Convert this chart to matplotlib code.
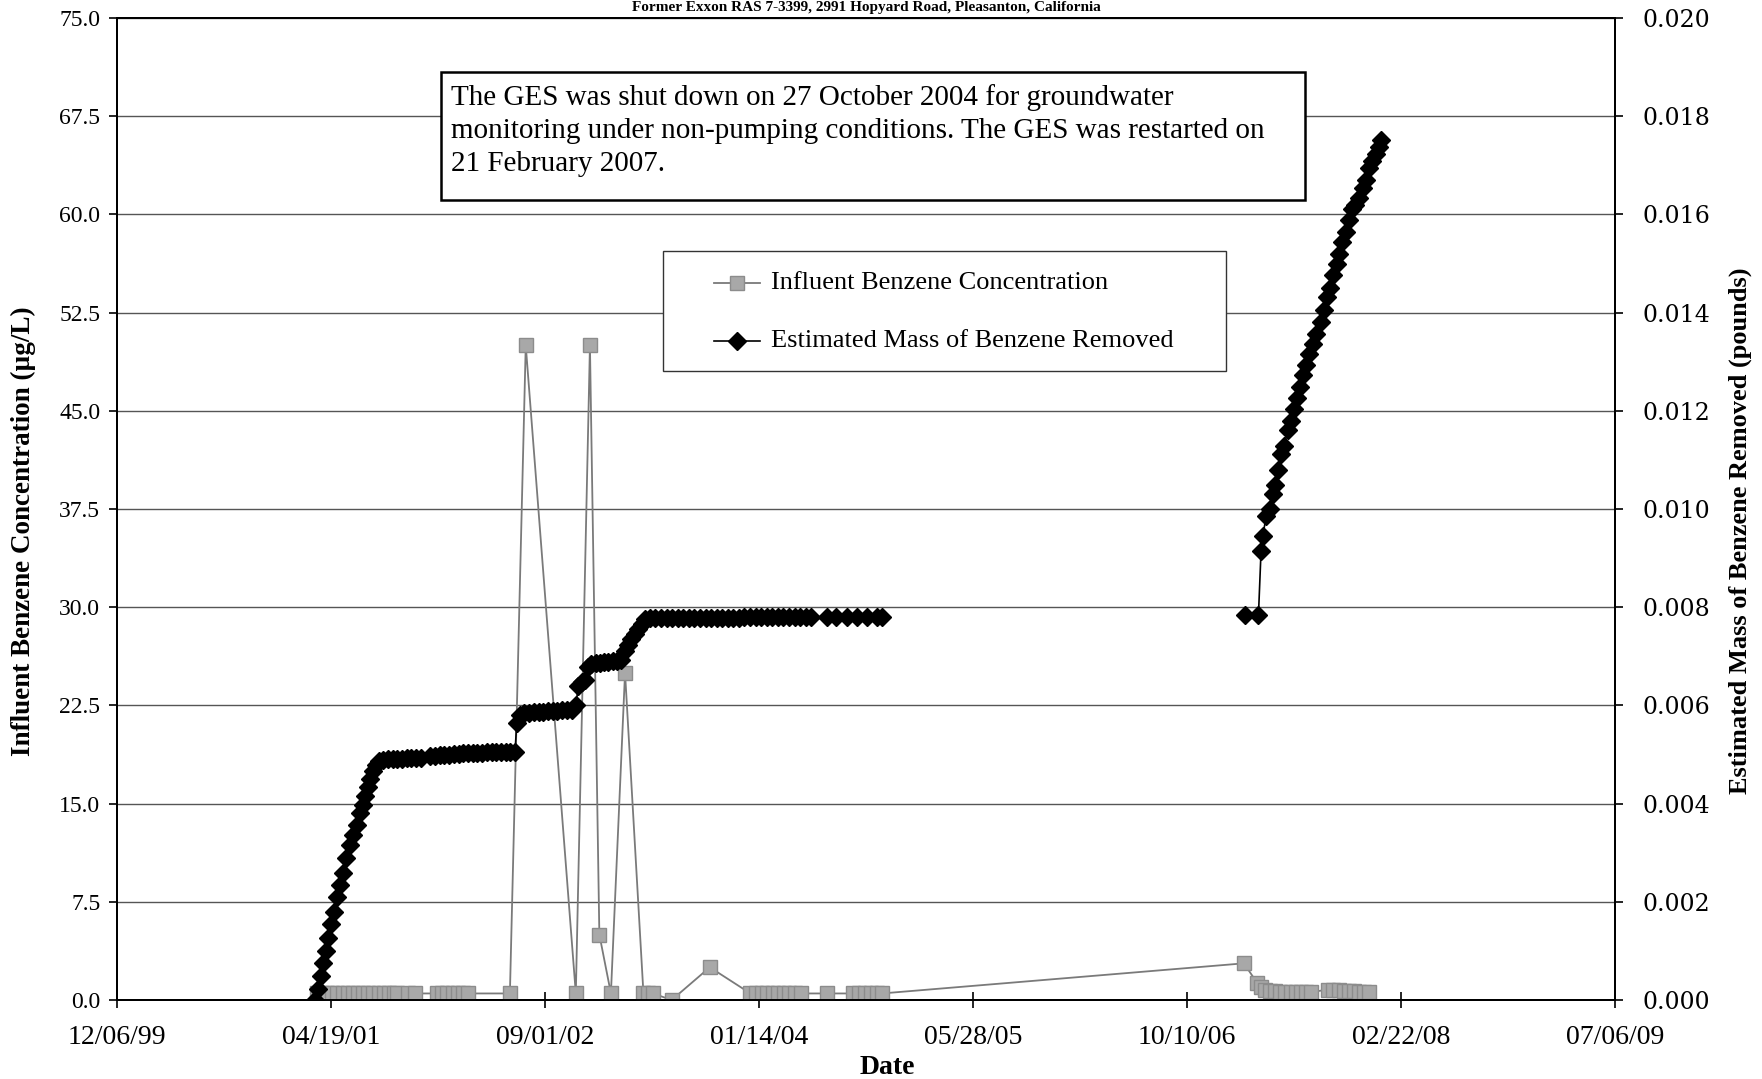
import numpy as np
import pandas as pd
import matplotlib
matplotlib.use("Agg")
import matplotlib.pyplot as plt
from matplotlib.patches import Rectangle
from matplotlib.lines import Line2D

# values, dates kept as Excel serial numbers
conc_days = [36967, 36979, 36991, 37003, 37015, 37027, 37039, 37051, 37063, 37075,
             37087, 37099, 37111, 37123, 37135, 37147, 37155,
             37181, 37196,
             37248, 37260, 37272, 37284, 37296, 37308, 37320,
             37418, 37455, 37572, 37605, 37627, 37654, 37687,
             37730, 37741, 37752, 37796, 37885,
             37980, 37993, 38006, 38019, 38032, 38045, 38058, 38071, 38084, 38098,
             38160,
             38220, 38234, 38248, 38262, 38276, 38287,
             39133, 39164, 39172, 39182, 39194, 39206, 39218, 39230, 39242, 39254,
             39266, 39278, 39290, 39330, 39342, 39354, 39366, 39378, 39390, 39402,
             39414, 39426]
conc_ugl = [0.5, 0.5, 0.5, 0.5, 0.5, 0.5, 0.5, 0.5, 0.5, 0.5,
            0.5, 0.5, 0.5, 0.5, 0.5, 0.5, 0.5,
            0.5, 0.5,
            0.5, 0.5, 0.5, 0.5, 0.5, 0.5, 0.5,
            0.5, 50.0, 0.5, 50.0, 5.0, 0.5, 25.0,
            0.5, 0.5, 0.5, 0.0, 2.5,
            0.5, 0.5, 0.5, 0.5, 0.5, 0.5, 0.5, 0.5, 0.5, 0.5,
            0.5,
            0.5, 0.5, 0.5, 0.5, 0.5, 0.5,
            2.8, 1.3, 1.0, 0.8, 0.7, 0.7, 0.6, 0.6, 0.6, 0.6,
            0.6, 0.6, 0.6, 0.8, 0.8, 0.8, 0.7, 0.7, 0.7, 0.6,
            0.6, 0.6]

mass_days = [36963, 36970, 36976, 36982, 36988, 36994, 37001, 37008, 37015, 37021,
             37029, 37036, 37044, 37052, 37060, 37068, 37074, 37080, 37086, 37092,
             37098, 37104, 37112,
             37122, 37133, 37144, 37155, 37166, 37177, 37188, 37199, 37210,
             37232, 37243, 37254, 37265, 37276, 37287, 37298, 37309, 37320, 37331,
             37342, 37353, 37364, 37375, 37386, 37397, 37408, 37419, 37430,
             37434, 37441, 37452, 37463, 37474, 37485, 37496, 37507, 37518, 37529,
             37540, 37551, 37562, 37572, 37578, 37586, 37594,
             37600, 37608, 37618, 37628, 37638, 37648, 37658, 37668, 37678,
             37686, 37694, 37702, 37710, 37718, 37726, 37734,
             37745, 37758, 37771, 37784, 37797, 37810, 37823, 37836, 37849, 37862,
             37875, 37888, 37901, 37914, 37927, 37940, 37953, 37966, 37979, 37992,
             38005, 38018, 38031, 38044, 38057, 38070, 38083, 38096, 38109, 38122,
             38158, 38181, 38205, 38228, 38252, 38275, 38287,
             38700,
             39136, 39167, 39173, 39177, 39185, 39193, 39200, 39205, 39213, 39220,
             39227, 39235, 39243, 39250, 39256, 39264, 39272, 39279, 39286, 39294,
             39302, 39312, 39319, 39326, 39334, 39342, 39350, 39355, 39363, 39371,
             39378, 39385, 39393, 39403, 39411, 39418, 39425, 39433, 39441, 39448,
             39454]
mass_lbs = [0.00000, 0.00022, 0.00048, 0.00075, 0.00100, 0.00126, 0.00155, 0.00180, 0.00210, 0.00234,
            0.00258, 0.00289, 0.00316, 0.00336, 0.00356, 0.00380, 0.00398, 0.00416, 0.00434, 0.00450,
            0.00466, 0.00479, 0.00487,
            0.00489, 0.00490, 0.00490, 0.00491, 0.00491, 0.00492, 0.00492, 0.00492, 0.00493,
            0.00496, 0.00497, 0.00498, 0.00499, 0.00500, 0.00501, 0.00502, 0.00503, 0.00503, 0.00504,
            0.00504, 0.00504, 0.00505, 0.00505, 0.00505, 0.00505, 0.00506, 0.00506, 0.00506,
            0.00564, 0.00580, 0.00584, 0.00585, 0.00586, 0.00587, 0.00587, 0.00588, 0.00589, 0.00589,
            0.00590, 0.00590, 0.00591, 0.00600, 0.00640, 0.00648, 0.00652,
            0.00678, 0.00684, 0.00686, 0.00687, 0.00688, 0.00689, 0.00690, 0.00690, 0.00692,
            0.00710, 0.00722, 0.00736, 0.00746, 0.00756, 0.00766, 0.00776,
            0.00777, 0.00777, 0.00777, 0.00777, 0.00778, 0.00778, 0.00778, 0.00778, 0.00778, 0.00778,
            0.00779, 0.00779, 0.00779, 0.00779, 0.00779, 0.00779, 0.00779, 0.00780, 0.00780, 0.00780,
            0.00780, 0.00780, 0.00780, 0.00780, 0.00780, 0.00780, 0.00780, 0.00780, 0.00780, 0.00780,
            0.00780, 0.00780, 0.00780, 0.00780, 0.00780, 0.00780, 0.00780,
            np.nan,
            0.00785, 0.00785, 0.00914, 0.00945, 0.00985, 0.01001, 0.01030, 0.01048, 0.01079, 0.01111,
            0.01128, 0.01160, 0.01179, 0.01203, 0.01226, 0.01249, 0.01273, 0.01294, 0.01315, 0.01336,
            0.01357, 0.01381, 0.01406, 0.01432, 0.01451, 0.01477, 0.01498, 0.01519, 0.01544, 0.01564,
            0.01589, 0.01610, 0.01620, 0.01634, 0.01653, 0.01671, 0.01695, 0.01709, 0.01723, 0.01737,
            0.01751]

x_tick_labels = ["12/06/99", "04/19/01", "09/01/02", "01/14/04",
                 "05/28/05", "10/10/06", "02/22/08", "07/06/09"]

note_lines = ["The GES was shut down on 27 October 2004 for groundwater",
              "monitoring under non-pumping conditions. The GES was restarted on",
              "21 February 2007."]
legend_labels = ["Influent Benzene Concentration", "Estimated Mass of Benzene Removed"]

def serial_to_date(days):
    return pd.to_datetime(days, unit="D", origin="1899-12-30")

conc_dates = serial_to_date(conc_days)
mass_dates = serial_to_date(mass_days)
x_ticks = pd.to_datetime(x_tick_labels, format="%m/%d/%y")

serif = "Liberation Serif"
W, H = 1762, 1079
conc_style = dict(color="#7a7a7a", lw=1.3, marker="s", ms=9.5, mfc="#a8a8a8", mec="#8c8c8c", mew=1.0)
mass_style = dict(color="black", lw=1.2, marker="D", ms=9.5, mfc="black", mec="black")

fig = plt.figure(figsize=(W / 100, H / 100), dpi=100)
ax = fig.add_axes([117 / W, 1 - 1000 / H, 1498 / W, 982 / H])
ax2 = ax.twinx()

# concentration (left axis)
ax.plot(conc_dates, conc_ugl, zorder=3, **conc_style)
ax.set_ylim(0, 75)
ax.set_yticks(np.arange(0, 75.1, 7.5))
ax.yaxis.set_major_formatter(plt.FormatStrFormatter("%.1f"))
ax.set_xlim(x_ticks[0], x_ticks[-1])
ax.set_xticks(x_ticks)
ax.set_xticklabels(x_tick_labels)
ax.yaxis.grid(True, color="#555555", lw=1.0)
ax.set_axisbelow(True)

# mass removed (right axis)
ax2.plot(mass_dates, mass_lbs, zorder=4, **mass_style)
ax2.set_ylim(0, 0.020)
ax2.set_yticks(np.arange(0, 0.0201, 0.002))
ax2.yaxis.set_major_formatter(plt.FormatStrFormatter("%.3f"))

for a in (ax, ax2):
    for s in a.spines.values():
        s.set_linewidth(1.4)
        s.set_color("black")

ax.tick_params(axis="x", direction="inout", length=12, width=1.2, pad=12, labelsize=20)
ax.tick_params(axis="y", direction="out", length=6, width=1.2, pad=6, labelsize=17)
ax2.tick_params(axis="y", direction="out", length=6, width=1.2, pad=14, labelsize=17)
for lab in ax.get_xticklabels() + ax.get_yticklabels():
    lab.set_fontfamily(serif)
for lab in ax2.get_yticklabels():
    lab.set_fontfamily("DejaVu Serif")

fig.text(23 / W, 1 - 531 / H, "Influent Benzene Concentration (\u00b5g/L)", rotation=90,
         ha="center", va="center", fontsize=19.5, fontweight="bold", family=serif)
fig.text(1740 / W, 1 - 531 / H, "Estimated Mass of Benzene Removed (pounds)", rotation=90,
         ha="center", va="center", fontsize=19, fontweight="bold", family=serif)
fig.text(887 / W, 1 - 1067 / H, "Date", ha="center", va="center",
         fontsize=20, fontweight="bold", family=serif)

# title line (cut off at the top edge of the original scan)
fig.text(866 / W, 1 - 1 / H, "Former Exxon RAS 7-3399, 2991 Hopyard Road, Pleasanton, California",
         ha="center", va="top", fontsize=11, fontweight="bold", family=serif)

# note box
fig.patches.append(Rectangle((441 / W, 1 - 200 / H), 864 / W, 128 / H, transform=fig.transFigure,
                             facecolor="white", edgecolor="black", lw=1.8, zorder=5))
for i, line in enumerate(note_lines):
    fig.text(451 / W, 1 - (98 + 33 * i) / H, line, ha="left", va="center",
             fontsize=21, family=serif, zorder=6)

# legend box, laid out by hand to match the original spacing
fig.patches.append(Rectangle((663 / W, 1 - 371 / H), 563 / W, 120 / H, transform=fig.transFigure,
                             facecolor="white", edgecolor="#333333", lw=1.0, zorder=5))
for style, label, yrow in zip([conc_style, mass_style], legend_labels, [283, 341]):
    y = 1 - yrow / H
    fig.add_artist(Line2D([714 / W, 737 / W, 760 / W], [y, y, y], transform=fig.transFigure,
                          markevery=[1], zorder=6, **style))
    fig.text(771 / W, y, label, ha="left", va="center", fontsize=19, family=serif, zorder=6)

fig.savefig("out.png", dpi=100, facecolor="white")
